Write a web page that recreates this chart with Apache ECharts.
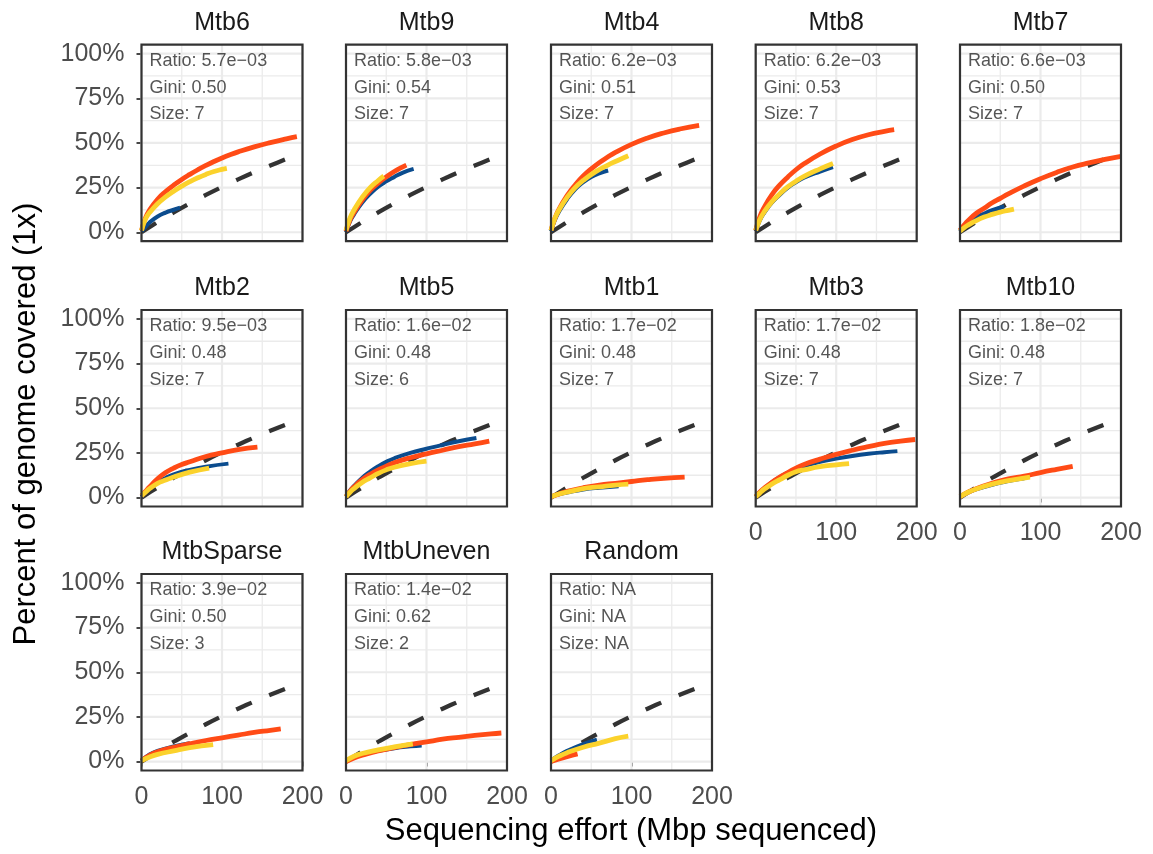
<!DOCTYPE html>
<html>
<head>
<meta charset="utf-8">
<script src="https://cdn.jsdelivr.net/npm/echarts@6/dist/echarts.min.js"></script>
<style>
  html, body { margin: 0; padding: 0; background: #ffffff; }
  #chart { width: 1153px; height: 854px; }
</style>
</head>
<body>
<div id="chart"></div>
<script>
// Facet labels and per-facet statistics
const panelNames = ['Mtb6', 'Mtb9', 'Mtb4', 'Mtb8', 'Mtb7', 'Mtb2', 'Mtb5', 'Mtb1', 'Mtb3', 'Mtb10', 'MtbSparse', 'MtbUneven', 'Random'];
const ratioText = ['5.7e−03', '5.8e−03', '6.2e−03', '6.2e−03', '6.6e−03', '9.5e−03', '1.6e−02', '1.7e−02', '1.7e−02', '1.8e−02', '3.9e−02', '1.4e−02', 'NA'];
const giniText = ['0.50', '0.54', '0.51', '0.53', '0.50', '0.48', '0.48', '0.48', '0.48', '0.48', '0.50', '0.62', 'NA'];
const sizeText = ['7', '7', '7', '7', '7', '7', '6', '7', '7', '7', '3', '2', 'NA'];

// Axis ticks (Mbp sequenced, % covered)
const xMajor = [0, 100, 200];
const xMinor = [50, 150];
const yMajor = [0, 25, 50, 75, 100];
const yMinor = [12.5, 37.5, 62.5, 87.5];

// Expected coverage curve for uniformly random reads (dashed)
const refX = [0, 20, 40, 60, 80, 100, 120, 140, 160, 180];
const refY = [0, 5.7, 11.1, 16.1, 20.9, 25.4, 29.6, 33.6, 37.4, 41.0];

// Rarefaction curves: [Mbp sequenced, % genome covered]
const mtb6Blue = [[0,0.5],[5,3],[10,5.5],[20,8.8],[30,11],[40,12.6],[48,13.8]];
const mtb6Red = [[0,1],[5,8],[10,12.5],[20,18.5],[30,22.8],[40,26.4],[50,29.6],[60,32.4],[70,35],[80,37.4],[90,39.6],[100,41.6],[110,43.4],[120,45],[140,47.8],[160,50.2],[180,52.3],[193,53.5]];
const mtb6Yellow = [[0,1],[5,7.5],[10,11],[20,16],[30,19.8],[40,23],[50,25.8],[60,28.3],[70,30.5],[80,32.4],[90,34],[100,35.2],[106,35.8]];

const mtb9Blue = [[0,0],[5,6],[10,10],[20,16.5],[30,21.5],[40,25.5],[50,28.5],[60,31],[70,33.3],[84,35.5]];
const mtb9Red = [[0,0.5],[5,7],[10,11],[20,18],[30,23.5],[40,27.5],[50,31],[60,34],[70,36.5],[75,37.6]];
const mtb9Yellow = [[0,1],[5,8],[10,12.5],[20,19.5],[30,25],[40,29],[47,31.5]];

const mtb4Blue = [[0,0.5],[5,7],[10,11.5],[20,18.5],[30,24],[40,28],[50,31],[60,33],[71,34.6]];
const mtb4Red = [[0,1],[5,8],[10,13],[20,20.5],[30,26.5],[40,31.5],[50,35.5],[60,39],[70,42],[80,44.7],[100,49.2],[120,52.8],[140,55.6],[160,57.8],[184,59.8]];
const mtb4Yellow = [[0,1],[5,8],[10,12.5],[20,19.5],[30,25],[40,29],[55,33.8],[70,37.5],[85,40.6],[96,42.8]];

const mtb8Blue = [[0,0.5],[5,6.5],[10,10.5],[20,16.5],[30,21],[40,25],[50,28],[60,30.5],[80,34],[96,36.5]];
const mtb8Red = [[0,1],[5,8.5],[10,13.5],[20,21],[30,26.5],[40,31],[50,35],[60,38.3],[80,43.8],[100,48.3],[120,51.9],[140,54.6],[160,56.5],[172,57.4]];
const mtb8Yellow = [[0,1],[5,7],[10,11],[20,17],[30,21.5],[40,25.5],[50,28.6],[60,31.3],[80,35.5],[96,38.5]];

const mtb7Blue = [[0,0.5],[5,3.3],[10,5.2],[20,8.2],[30,10.5],[40,12.4],[55,14.5]];
const mtb7Red = [[0,1],[5,4],[10,6.5],[20,10.5],[30,13.5],[40,16.5],[50,19],[60,21.5],[80,26],[100,30],[120,33.5],[140,36.5],[160,38.8],[180,40.8],[200,42.5]];
const mtb7Yellow = [[0,0.5],[5,2.5],[10,4],[20,6.5],[30,8.5],[40,10],[50,11.3],[60,12.3],[67,13]];

const mtb2Blue = [[0,0.5],[5,3],[10,5],[20,8.5],[30,11],[40,13],[60,15.5],[80,17.3],[108,19]];
const mtb2Red = [[0,1],[5,3.5],[10,6],[20,10.5],[30,14],[40,16.5],[50,18.5],[60,20],[80,23],[100,25],[120,26.8],[144,28.2]];
const mtb2Yellow = [[0,1],[5,3],[10,5],[20,8],[30,9.8],[40,11.5],[60,14.2],[84,16.5]];

const mtb5Blue = [[0,0.5],[5,4],[10,6.5],[20,11],[30,14.5],[40,17.5],[50,20],[60,22],[80,25],[100,27.3],[120,29.5],[140,31.5],[162,33.3]];
const mtb5Red = [[0,0.5],[5,3.5],[10,6],[20,10],[30,13],[40,15.5],[50,17.5],[60,19.5],[80,22.3],[100,24.5],[120,26.5],[140,28.5],[160,30],[178,31.6]];
const mtb5Yellow = [[0,0.5],[5,3],[10,5],[20,8.5],[30,11],[40,13.5],[50,15.5],[60,17],[80,19],[100,20.4]];

const mtb1Blue = [[0,0.5],[10,1.8],[20,2.8],[40,4.5],[60,5.5],[84,6.3]];
const mtb1Red = [[0,0.5],[10,2],[20,3.5],[40,5.5],[60,7],[80,8],[100,9],[120,10],[140,10.8],[166,11.5]];
const mtb1Yellow = [[0,0.5],[10,2],[20,3],[40,5],[60,6],[80,7],[96,7.5]];

const mtb3Blue = [[0,0.5],[5,3],[10,5],[20,8.5],[30,11.5],[40,14],[50,16],[60,17.5],[80,20],[100,21.8],[120,23.3],[140,24.5],[160,25.4],[176,26]];
const mtb3Red = [[0,0.5],[5,3],[10,5],[20,8.5],[30,11.5],[40,14],[50,16.5],[60,18.5],[80,21.5],[100,24.2],[120,26.5],[140,28.5],[160,30.3],[180,31.6],[198,32.5]];
const mtb3Yellow = [[0,0.5],[5,2.5],[10,4.5],[20,7.5],[30,10],[40,12.5],[50,14.5],[60,15.5],[80,17.3],[100,18.3],[116,19]];

const mtb10Blue = [[0,0.5],[10,2.8],[20,4.6],[40,7.2],[60,9.2],[80,10.8]];
const mtb10Red = [[0,0.5],[10,3],[20,5],[40,8],[60,10.5],[80,12],[100,14],[120,15.8],[140,17.5]];
const mtb10Yellow = [[0,0.5],[10,3],[20,4.8],[40,7.5],[60,9.5],[87,11.5]];

const sparseBlue = [[0,0.5],[10,4],[20,6],[40,8.5],[60,10.3]];
const sparseRed = [[0,0.5],[10,3.5],[20,5.5],[40,8],[60,10],[80,11.8],[100,13.3],[120,14.8],[140,16.3],[160,17.5],[173,18.3]];
const sparseYellow = [[0,0.5],[10,2.5],[20,4],[40,6],[60,7.8],[89,9.5]];

const unevenBlue = [[0,0.5],[10,2.5],[20,4],[40,6],[60,7.5],[80,8.5],[94,9]];
const unevenRed = [[0,0],[10,2],[20,3.5],[40,6],[60,7.8],[80,9.5],[100,11],[120,12.5],[140,13.6],[160,14.6],[180,15.5],[193,16]];
const unevenYellow = [[0,0.5],[10,3],[20,4.5],[40,6.5],[60,8.2],[83,9.9]];

const randomBlue = [[0,0.5],[10,3.5],[20,6],[40,9.8],[57,12.3]];
const randomRed = [[0,0],[10,1.5],[20,2.8],[33,4.3]];
const randomYellow = [[0,0.5],[10,3],[20,5],[40,8],[60,10.3],[80,12.8],[96,14.2]];

const blueCurves = [mtb6Blue, mtb9Blue, mtb4Blue, mtb8Blue, mtb7Blue, mtb2Blue, mtb5Blue, mtb1Blue, mtb3Blue, mtb10Blue, sparseBlue, unevenBlue, randomBlue];
const redCurves = [mtb6Red, mtb9Red, mtb4Red, mtb8Red, mtb7Red, mtb2Red, mtb5Red, mtb1Red, mtb3Red, mtb10Red, sparseRed, unevenRed, randomRed];
const yellowCurves = [mtb6Yellow, mtb9Yellow, mtb4Yellow, mtb8Yellow, mtb7Yellow, mtb2Yellow, mtb5Yellow, mtb1Yellow, mtb3Yellow, mtb10Yellow, sparseYellow, unevenYellow, randomYellow];

// Facet layout (pixels)
const colLeft = [141.5, 346, 551, 755.7, 960];
const rowTop = [44.7, 310, 574];
const panelW = 161;
const panelH = 196.5;
const FONT = '"Liberation Sans", Arial, Helvetica, sans-serif';

const BLUE = '#0B4C8E';
const RED = '#FF4B16';
const YELLOW = '#FBD22C';
const DARK = '#333333';

const chart = echarts.init(document.getElementById('chart'), null, { renderer: 'canvas' });

const grids = [], xAxes = [], yAxes = [], series = [], graphics = [];

const gridLineData = [
  ...yMajor.map(v => [0, v, 0, 1]),
  ...yMinor.map(v => [0, v, 0, 0]),
  ...xMajor.map(v => [v, 0, 1, 1]),
  ...xMinor.map(v => [v, 0, 1, 0])
];

panelNames.forEach((name, i) => {
  const row = Math.floor(i / 5);
  const col = i % 5;
  const left = colLeft[col];
  const top = rowTop[row];
  const showY = col === 0;
  const showX = row === 2 || (row === 1 && col >= 3);

  grids.push({ left: left, top: top, width: panelW, height: panelH, containLabel: false });

  xAxes.push({
    gridIndex: i, type: 'value', min: 0, max: 200, interval: 100,
    splitLine: { show: false }, axisLine: { show: false },
    axisTick: { show: showX, length: 5, lineStyle: { color: DARK, width: 1.8 } },
    axisLabel: { show: showX, color: '#4D4D4D', fontSize: 25, fontFamily: FONT, margin: 14,
                 showMinLabel: true, showMaxLabel: true }
  });

  yAxes.push({
    gridIndex: i, type: 'value', min: -5, max: 105,
    splitLine: { show: false }, axisLine: { show: false },
    axisTick: { show: showY, customValues: yMajor, length: 5, lineStyle: { color: DARK, width: 1.8 } },
    axisLabel: { show: showY, customValues: yMajor, formatter: '{value}%', color: '#4D4D4D',
                 fontSize: 25, fontFamily: FONT, margin: 17 }
  });

  // panel grid lines
  series.push({
    type: 'custom', xAxisIndex: i, yAxisIndex: i, silent: true, z: 1, clip: false,
    encode: { x: 0, y: 1 },
    data: gridLineData,
    renderItem: function (params, api) {
      const cs = params.coordSys;
      const vertical = api.value(2) === 1;
      const major = api.value(3) === 1;
      let shape;
      if (vertical) {
        const p = api.coord([api.value(0), 0]);
        shape = { x1: p[0], y1: cs.y, x2: p[0], y2: cs.y + cs.height };
      } else {
        const p = api.coord([0, api.value(1)]);
        shape = { x1: cs.x, y1: p[1], x2: cs.x + cs.width, y2: p[1] };
      }
      return { type: 'line', shape: shape, style: { stroke: '#EBEBEB', lineWidth: major ? 2.2 : 1.3 } };
    }
  });

  // random-read expectation
  series.push({
    type: 'line', xAxisIndex: i, yAxisIndex: i, z: 2, silent: true,
    data: refX.map((x, k) => [x, refY[k]]),
    showSymbol: false, symbol: 'none', smooth: 0.3, clip: true,
    lineStyle: { color: DARK, width: 4.3, type: [17, 19], cap: 'butt' }
  });

  const curveStyle = (color, width) => ({
    type: 'line', xAxisIndex: i, yAxisIndex: i, z: 3, silent: true,
    showSymbol: false, symbol: 'none', smooth: 0.5, clip: true,
    lineStyle: { color: color, width: width, cap: 'butt', join: 'round' }
  });
  series.push(Object.assign(curveStyle(BLUE, 4), { data: blueCurves[i] }));
  series.push(Object.assign(curveStyle(RED, 4.8), { data: redCurves[i] }));
  series.push(Object.assign(curveStyle(YELLOW, 4.8), { data: yellowCurves[i] }));

  // per-facet statistics
  const texts = ['Ratio: ' + ratioText[i], 'Gini: ' + giniText[i], 'Size: ' + sizeText[i]];
  series.push({
    type: 'scatter', xAxisIndex: i, yAxisIndex: i, z: 4, silent: true,
    symbolSize: 1, itemStyle: { color: 'rgba(0,0,0,0)' },
    data: texts.map((t, k) => ({ value: [10, [96, 81, 66][k]], label: { formatter: t } })),
    label: { show: true, position: 'inside', align: 'left', verticalAlign: 'middle',
             color: '#2B2B2B', fontSize: 18, fontFamily: FONT }
  });

  // facet border
  graphics.push({
    type: 'rect', z: 100, silent: true,
    shape: { x: left, y: top, width: panelW, height: panelH },
    style: { fill: 'none', stroke: DARK, lineWidth: 2.2 }
  });
  // facet strip label
  graphics.push({
    type: 'text', z: 100, silent: true,
    style: { text: name, x: left + panelW / 2, y: top - 22, align: 'center', verticalAlign: 'middle',
             fill: '#1A1A1A', fontSize: 25, fontFamily: FONT }
  });
});

graphics.push({
  type: 'text', silent: true,
  style: { text: 'Sequencing effort (Mbp sequenced)', x: 631, y: 831, align: 'center', verticalAlign: 'middle',
           fill: '#000000', fontSize: 31, fontFamily: FONT }
});
graphics.push({
  type: 'text', silent: true, x: 26, y: 424, rotation: Math.PI / 2,
  style: { text: 'Percent of genome covered (1x)', x: 0, y: 0, align: 'center', verticalAlign: 'middle',
           fill: '#000000', fontSize: 31, fontFamily: FONT }
});

chart.setOption({
  backgroundColor: '#ffffff',
  animation: false,
  grid: grids,
  xAxis: xAxes,
  yAxis: yAxes,
  series: series,
  graphic: graphics
});
</script>
</body>
</html>
